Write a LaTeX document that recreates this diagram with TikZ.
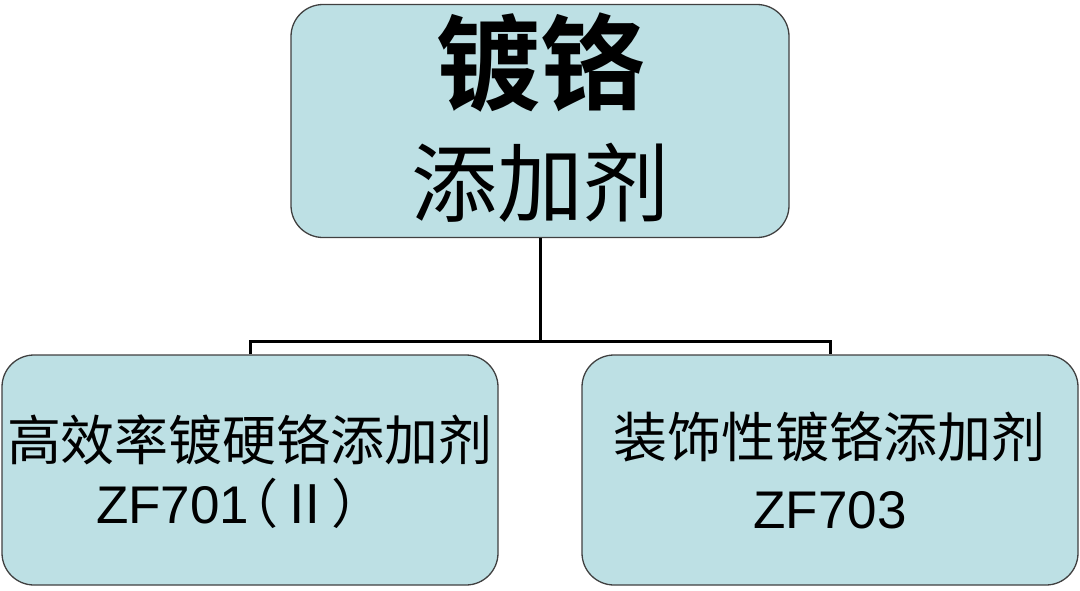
\documentclass[tikz,border=0pt]{standalone}
\usepackage{fontspec}
\newfontfamily\cjk{Noto Sans CJK SC}
\newfontfamily\cjkb{Noto Sans CJK SC Bold}
\setmainfont{Liberation Sans}
\begin{document}
\begin{tikzpicture}[x=1pt,y=-1pt,
  box/.style={draw=black!75,line width=1.3pt,fill=boxfill,rounded corners=32pt,inner sep=0pt},
  txt/.style={inner sep=0pt},
  conn/.style={line width=3pt,black}]
\definecolor{boxfill}{RGB}{189,224,228}
\useasboundingbox (0,0) rectangle (1080,590);
\node[box,minimum width=498pt,minimum height=233pt] (top) at (540,121) {};
\node[box,minimum width=496pt,minimum height=230pt] (left) at (250,470) {};
\node[box,minimum width=496pt,minimum height=230pt] (right) at (830,470) {};
\node[txt] (t1) at (540,63) {\cjkb\fontsize{104}{104}\selectfont 镀铬};
\node[txt] (t2) at (540,183) {\cjk\fontsize{86}{86}\selectfont 添加剂};
\node[txt] (l1) at (250,440) {\cjk\fontsize{54}{54}\selectfont 高效率镀硬铬添加剂};
\node[txt,anchor=west] (l2) at (96,503) {\fontsize{53}{53}\selectfont ZF701\kern-24pt{\cjk（Ⅱ）}};
\node[txt] (r1) at (829,437) {\cjk\fontsize{54}{54}\selectfont 装饰性镀铬添加剂};
\node[txt] (r2) at (830,510) {\fontsize{53}{53}\selectfont ZF703};
\coordinate (mid) at (540,341);
\draw[conn] (top.south) -- (mid);
\draw[conn] (left.north) |- (mid) -| (right.north);
\end{tikzpicture}
\end{document}
